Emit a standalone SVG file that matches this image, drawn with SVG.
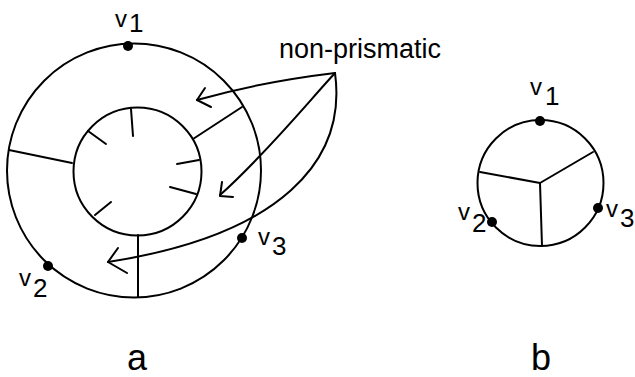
<svg xmlns="http://www.w3.org/2000/svg" width="635" height="377" viewBox="0 0 635 377">
<style>
.ln{fill:none;stroke:#000;stroke-width:2;stroke-linecap:round;stroke-linejoin:round}
.dot{fill:#000}
.t{font-family:"Liberation Sans",Arial,sans-serif;fill:#000}
.v{font-size:24px}
.n{font-size:26px}
.big{font-size:36px}
</style>
<rect width="635" height="377" fill="#fff"/>
<g id="figure-a">
  <g id="outer-circle"><circle class="ln" cx="134" cy="170.5" r="127"/></g>
  <g id="inner-circle"><circle class="ln" cx="137.5" cy="171.5" r="64"/></g>
  <g id="spokes-a">
    <line class="ln" x1="193" y1="139" x2="242" y2="107"/>
    <line class="ln" x1="9" y1="150" x2="72" y2="163"/>
    <line class="ln" x1="138" y1="235" x2="138" y2="297"/>
  </g>
  <g id="ticks">
    <line class="ln" x1="131" y1="109" x2="133" y2="136"/>
    <line class="ln" x1="88" y1="131" x2="106" y2="144"/>
    <line class="ln" x1="199" y1="160" x2="177" y2="164"/>
    <line class="ln" x1="196" y1="194" x2="170" y2="187"/>
    <line class="ln" x1="95" y1="215" x2="111" y2="202"/>
  </g>
  <g id="a-v1"><circle class="dot" cx="128" cy="46" r="5"/><text class="t v" x="115" y="27">v</text><text class="t n" x="129" y="32">1</text></g>
  <g id="a-v2"><circle class="dot" cx="48" cy="266" r="5"/><text class="t v" x="19" y="286">v</text><text class="t n" x="33" y="297">2</text></g>
  <g id="a-v3"><circle class="dot" cx="242" cy="238" r="5"/><text class="t v" x="258" y="245">v</text><text class="t n" x="272" y="255">3</text></g>
  <text class="t big" x="127" y="370">a</text>
</g>
<g id="label-nonprismatic"><text class="t" style="font-size:27px" x="279" y="58">non-prismatic</text></g>
<g id="connectors">
  <path class="ln" d="M335,73 Q260,82 197,100"/>
  <polyline class="ln" points="205,88 197,100 211,107"/>
  <path class="ln" d="M335,73 C310,100 265,155 220,195"/>
  <polyline class="ln" points="233,197 220,196 222,182"/>
  <path class="ln" d="M335,73 C347,160 282,235 108,262"/>
  <polyline class="ln" points="118,248 108,262 127,273"/>
</g>
<g id="figure-b">
  <g id="b-circle"><circle class="ln" cx="540.5" cy="183" r="63"/></g>
  <g id="spokes-b">
    <line class="ln" x1="540" y1="183" x2="593" y2="152"/>
    <line class="ln" x1="540" y1="183" x2="480" y2="172"/>
    <line class="ln" x1="540" y1="183" x2="542" y2="246"/>
  </g>
  <g id="b-v1"><circle class="dot" cx="540" cy="121" r="5"/><text class="t v" x="530" y="95">v</text><text class="t n" x="545" y="105">1</text></g>
  <g id="b-v2"><circle class="dot" cx="492" cy="222" r="5"/><text class="t v" x="458" y="220">v</text><text class="t n" x="472" y="232">2</text></g>
  <g id="b-v3"><circle class="dot" cx="598" cy="208" r="5"/><text class="t v" x="606" y="217">v</text><text class="t n" x="620" y="227">3</text></g>
  <text class="t big" x="531" y="370">b</text>
</g>
</svg>
